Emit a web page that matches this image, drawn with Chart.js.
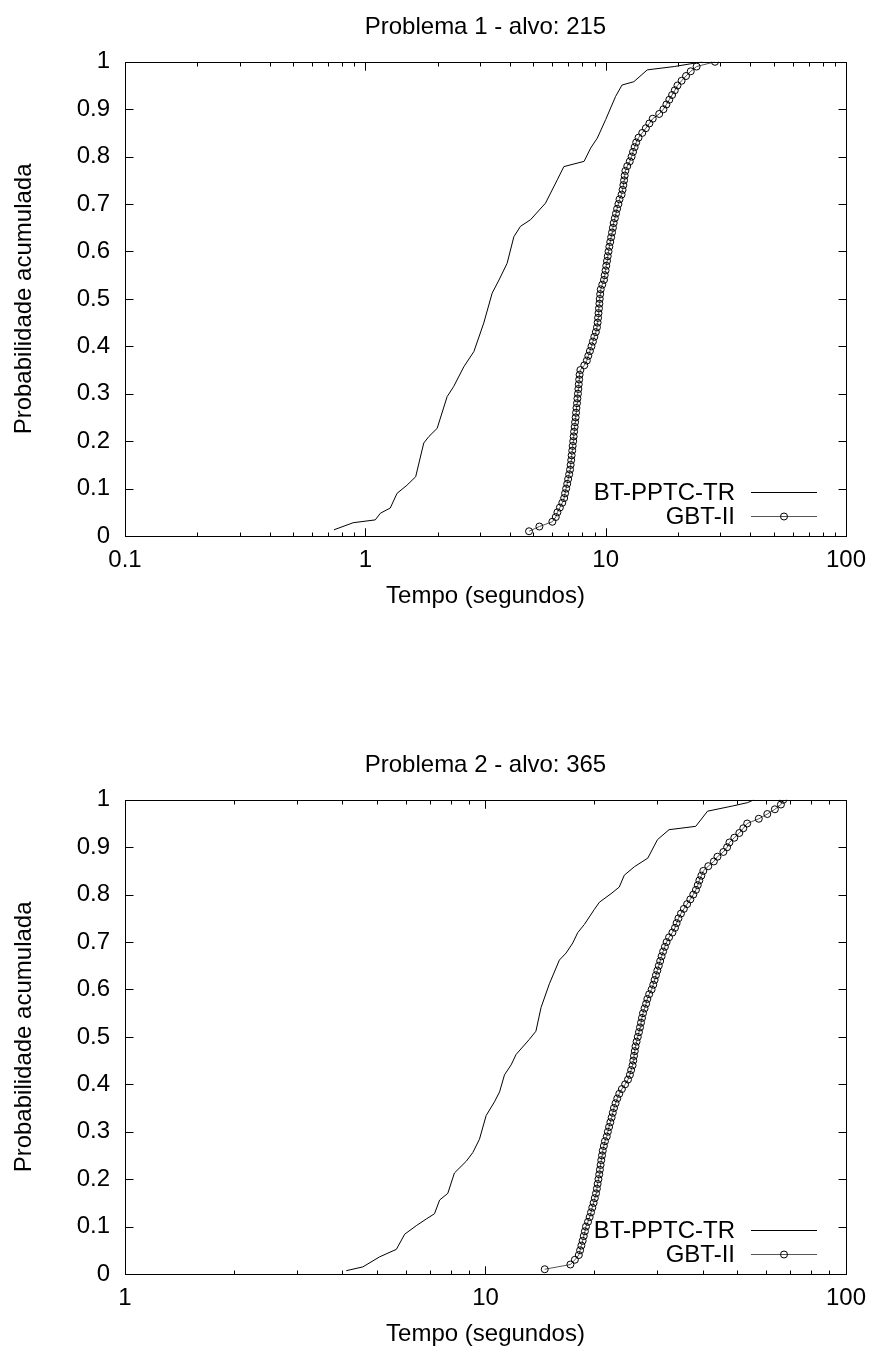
<!DOCTYPE html>
<html>
<head>
<meta charset="utf-8">
<script src="https://cdn.jsdelivr.net/npm/chart.js@4.4.1/dist/chart.umd.min.js"></script>
<style>
  html, body { margin: 0; padding: 0; background: #fff; overflow: hidden; }
  .box { position: absolute; left: 0; width: 876px; height: 612px; }
</style>
</head>
<body>
<div class="box" style="top:0"><canvas id="chart-p1" width="876" height="612"></canvas></div>
<div class="box" style="top:738px"><canvas id="chart-p2" width="876" height="612"></canvas></div>
<script>
// CDF curves (tempo em segundos vs probabilidade acumulada)
const SERIES_NAMES = ['BT-PPTC-TR', 'GBT-II'];
const yTicks = [0, 0.1, 0.2, 0.3, 0.4, 0.5, 0.6, 0.7, 0.8, 0.9, 1];

// Problema 1
const p1Title = 'Problema 1 - alvo: 215';
const p1XTicks = [0.1, 1, 10, 100];
const bt1Time = [0.74, 0.89, 1.10, 1.155, 1.27, 1.355, 1.49, 1.62, 1.75, 1.84, 1.99, 2.19, 2.33, 2.57, 2.83, 3.11, 3.37, 3.6, 3.89, 4.15, 4.42, 4.87, 5.62, 6.29, 6.7, 8.13, 8.66, 9.23, 10.0, 11.0, 11.7, 13.1, 14.9, 19.3, 25.3];
const bt1Prob = [0.013, 0.028, 0.034, 0.048, 0.059, 0.09, 0.107, 0.125, 0.196, 0.21, 0.227, 0.294, 0.315, 0.357, 0.389, 0.449, 0.512, 0.54, 0.575, 0.631, 0.653, 0.667, 0.702, 0.751, 0.779, 0.79, 0.818, 0.839, 0.878, 0.927, 0.951, 0.958, 0.983, 0.99, 1.0];

const gbtProb = [0.01, 0.02, 0.03, 0.04, 0.05, 0.06, 0.07, 0.08, 0.09, 0.10,
    0.11, 0.12, 0.13, 0.14, 0.15, 0.16, 0.17, 0.18, 0.19, 0.20,
    0.21, 0.22, 0.23, 0.24, 0.25, 0.26, 0.27, 0.28, 0.29, 0.30,
    0.31, 0.32, 0.33, 0.34, 0.35, 0.36, 0.37, 0.38, 0.39, 0.40,
    0.41, 0.42, 0.43, 0.44, 0.45, 0.46, 0.47, 0.48, 0.49, 0.50,
    0.51, 0.52, 0.53, 0.54, 0.55, 0.56, 0.57, 0.58, 0.59, 0.60,
    0.61, 0.62, 0.63, 0.64, 0.65, 0.66, 0.67, 0.68, 0.69, 0.70,
    0.71, 0.72, 0.73, 0.74, 0.75, 0.76, 0.77, 0.78, 0.79, 0.80,
    0.81, 0.82, 0.83, 0.84, 0.85, 0.86, 0.87, 0.88, 0.89, 0.90,
    0.91, 0.92, 0.93, 0.94, 0.95, 0.96, 0.97, 0.98, 0.99, 1.00];
const gbt1Time = [4.8, 5.3, 6.0, 6.2, 6.3, 6.45, 6.6, 6.72, 6.78, 6.85,
    6.92, 6.98, 7.05, 7.11, 7.15, 7.19, 7.22, 7.26, 7.29, 7.33,
    7.36, 7.39, 7.43, 7.46, 7.5, 7.53, 7.56, 7.6, 7.63, 7.67,
    7.7, 7.73, 7.76, 7.79, 7.85, 8.15, 8.35, 8.47, 8.6, 8.73,
    8.85, 8.97, 9.1, 9.2, 9.26, 9.3, 9.34, 9.38, 9.42, 9.45,
    9.49, 9.54, 9.68, 9.84, 9.91, 9.99, 10.06, 10.13, 10.2, 10.28,
    10.36, 10.45, 10.54, 10.63, 10.72, 10.8, 10.92, 11.04, 11.16, 11.3,
    11.42, 11.65, 11.76, 11.85, 11.93, 12.0, 12.08, 12.3, 12.6, 12.82,
    13.0, 13.2, 13.4, 13.7, 14.2, 14.7, 15.2, 15.7, 16.7, 17.4,
    17.9, 18.4, 18.9, 19.4, 19.9, 20.7, 21.6, 22.6, 23.9, 28.5];

// Problema 2
const p2Title = 'Problema 2 - alvo: 365';
const p2XTicks = [1, 10, 100];
const bt2Time = [4.11, 4.57, 5.08, 5.66, 5.97, 6.43, 6.85, 7.22, 7.46, 7.86, 8.2, 8.85, 9.22, 9.62, 10.04, 10.59, 10.94, 11.29, 11.78, 12.16, 13.24, 13.8, 14.26, 15.04, 16.03, 16.74, 17.46, 18.03, 18.8, 20.05, 20.7, 22.3, 23.5, 24.27, 25.9, 28.2, 30.0, 32.3, 38.3, 41.3, 48.5, 53.3, 55.6];
const bt2Prob = [0.007, 0.015, 0.036, 0.052, 0.084, 0.102, 0.116, 0.127, 0.156, 0.17, 0.213, 0.238, 0.256, 0.284, 0.334, 0.363, 0.384, 0.42, 0.441, 0.463, 0.495, 0.512, 0.562, 0.612, 0.662, 0.677, 0.698, 0.72, 0.737, 0.769, 0.784, 0.802, 0.816, 0.841, 0.859, 0.877, 0.916, 0.937, 0.944, 0.976, 0.987, 0.994, 1.0];
const gbt2Time = [14.6, 17.2, 17.7, 18.15, 18.3, 18.45, 18.6, 18.73, 18.87, 19.0,
    19.25, 19.45, 19.62, 19.78, 19.95, 20.1, 20.26, 20.37, 20.47, 20.58,
    20.68, 20.77, 20.86, 20.95, 21.05, 21.15, 21.3, 21.45, 21.7, 21.85,
    22.02, 22.2, 22.38, 22.55, 22.72, 22.95, 23.2, 23.5, 23.9, 24.4,
    24.85, 25.15, 25.35, 25.58, 25.7, 25.82, 25.95, 26.07, 26.25, 26.45,
    26.65, 26.83, 27.0, 27.17, 27.35, 27.62, 27.9, 28.12, 28.45, 28.9,
    29.2, 29.45, 29.7, 29.97, 30.25, 30.52, 30.8, 31.1, 31.45, 31.8,
    32.3, 33.0, 33.55, 33.9, 34.3, 34.85, 35.5, 36.25, 37.0, 37.7,
    38.35, 38.8, 39.2, 39.7, 40.2, 41.5, 43.0, 44.0, 45.7, 46.8,
    47.5, 49.0, 50.6, 51.9, 53.2, 57.3, 60.5, 63.5, 66.0, 67.0];

const FONT = '"Liberation Sans", Arial, Helvetica, sans-serif';
Chart.defaults.font.family = FONT;
Chart.defaults.font.size = 24;
Chart.defaults.color = '#000';

const toPoints = (xs, ys) => xs.map((x, i) => ({ x, y: ys[i] }));

// gnuplot-like frame with inward major/minor ticks on all four sides
const framePlugin = {
    id: 'gnuFrame',
    afterDatasetsDraw(chart) {
        const { ctx, chartArea: a, scales } = chart;
        const L = Math.round(a.left) + 0.5, R = Math.round(a.right) + 0.5;
        const T = Math.round(a.top) + 0.5, B = Math.round(a.bottom) + 0.5;
        ctx.save();
        ctx.strokeStyle = '#000';
        ctx.lineWidth = 1;
        ctx.beginPath();
        yTicks.forEach(v => {
            const y = Math.round(scales.y.getPixelForValue(v)) + 0.5;
            ctx.moveTo(L, y); ctx.lineTo(L + 8, y);
            ctx.moveTo(R, y); ctx.lineTo(R - 8, y);
        });
        const xs = scales.x;
        for (let d = Math.round(Math.log10(xs.min)); d < Math.round(Math.log10(xs.max)); d++) {
            for (let m = 1; m <= 10; m++) {
                const v = m * Math.pow(10, d);
                const x = Math.round(xs.getPixelForValue(v)) + 0.5;
                const len = (m === 1 || m === 10) ? 8 : 4;
                ctx.moveTo(x, B); ctx.lineTo(x, B - len);
                ctx.moveTo(x, T); ctx.lineTo(x, T + len);
            }
        }
        ctx.stroke();
        ctx.strokeRect(L, T, R - L, B - T);
        ctx.restore();
    },
};

// legend in the lower right corner: label, then sample line
const keyPlugin = {
    id: 'gnuKey',
    afterDraw(chart) {
        const { ctx, chartArea: a } = chart;
        ctx.save();
        ctx.font = '24px ' + FONT;
        ctx.textAlign = 'right';
        ctx.textBaseline = 'middle';
        chart.data.datasets.forEach((ds, i) => {
            const y = Math.round(a.bottom - 44 + i * 24) + 0.5;
            ctx.fillStyle = '#000';
            ctx.fillText(ds.label, 735, y + 1);
            ctx.strokeStyle = ds.borderColor;
            ctx.lineWidth = 1;
            ctx.beginPath();
            ctx.moveTo(751, y); ctx.lineTo(817, y);
            ctx.stroke();
            if (ds.pointRadius > 0) {
                ctx.strokeStyle = '#000';
                ctx.beginPath();
                ctx.arc(784, y, ds.pointRadius, 0, Math.PI * 2);
                ctx.stroke();
            }
        });
        ctx.restore();
    },
};

function createCdfChart(canvasId, title, xTicks, btT, btP, gbtT, gbtP) {
    const canvas = document.getElementById(canvasId);
    if (!canvas) return null;
    return new Chart(canvas.getContext('2d'), {
        type: 'line',
        data: {
            datasets: [
                {
                    label: SERIES_NAMES[0],
                    data: toPoints(btT, btP),
                    borderColor: '#000',
                    borderWidth: 1,
                    pointRadius: 0,
                    tension: 0,
                },
                {
                    label: SERIES_NAMES[1],
                    data: toPoints(gbtT, gbtP),
                    borderColor: '#555',
                    borderWidth: 1,
                    pointRadius: 3.5,
                    pointStyle: 'circle',
                    pointBorderColor: '#000',
                    pointBorderWidth: 1,
                    pointBackgroundColor: 'rgba(0,0,0,0)',
                    tension: 0,
                },
            ],
        },
        plugins: [framePlugin, keyPlugin],
        options: {
            responsive: false,
            animation: false,
            layout: { padding: { top: 0, right: 29, bottom: 0, left: 0 } },
            plugins: {
                legend: { display: false },
                tooltip: { enabled: false },
                title: {
                    display: true,
                    fullSize: false,
                    text: title,
                    color: '#000',
                    font: { size: 24, weight: 'normal' },
                    padding: { top: 13, bottom: 20 },
                },
            },
            scales: {
                x: {
                    type: 'logarithmic',
                    min: xTicks[0],
                    max: xTicks[xTicks.length - 1],
                    grid: { display: false, drawTicks: false },
                    border: { display: false },
                    afterBuildTicks: s => { s.ticks = xTicks.map(v => ({ value: v })); },
                    afterFit: s => { s.height = 76; },
                    ticks: {
                        autoSkip: false,
                        maxRotation: 0,
                        padding: 10,
                        callback: v => String(v),
                    },
                    title: {
                        display: true,
                        text: 'Tempo (segundos)',
                        padding: { top: 0, bottom: 1 },
                    },
                },
                y: {
                    min: 0,
                    max: 1,
                    grid: { display: false, drawTicks: false },
                    border: { display: false },
                    afterBuildTicks: s => { s.ticks = yTicks.map(v => ({ value: v })); },
                    afterFit: s => { s.width = 125; },
                    ticks: { padding: 15, callback: v => String(v) },
                    title: {
                        display: true,
                        text: 'Probabilidade acumulada',
                        padding: { top: 10, bottom: 0 },
                    },
                },
            },
        },
    });
}

try {
    createCdfChart('chart-p1', p1Title, p1XTicks, bt1Time, bt1Prob, gbt1Time, gbtProb);
    createCdfChart('chart-p2', p2Title, p2XTicks, bt2Time, bt2Prob, gbt2Time, gbtProb);
} catch (err) {
    console.error('[CDF-CHART] FAILED:', err);
}
</script>
</body>
</html>
